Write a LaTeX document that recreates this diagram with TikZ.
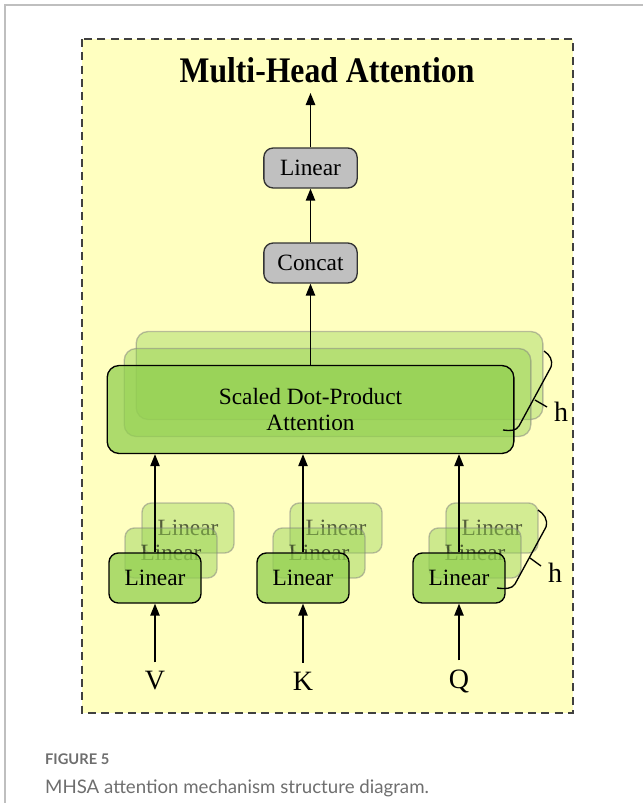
\documentclass[tikz,border=0pt]{standalone}
\usepackage{fontspec}
\setmainfont{Liberation Serif}
\newfontfamily\capfont{Lato}
\usetikzlibrary{arrows.meta}

\definecolor{bgyellow}{RGB}{255,255,192}
\definecolor{boxgray}{RGB}{192,192,192}
\definecolor{headgreen}{RGB}{146,208,80}
\definecolor{capgray}{RGB}{110,110,110}

\tikzset{
  px/.style={x=0.75pt, y=-0.75pt},
  boxfont/.style={font=\rmfamily\fontsize{17.5}{20}\selectfont},
  graybox/.style={draw=black!80, line width=1pt, fill=boxgray, rounded corners=7pt,
    minimum width=70pt, minimum height=30pt, boxfont},
  linbox/.style={draw=black, line width=1pt, fill=headgreen, fill opacity=0.75,
    text opacity=1, rounded corners=7pt, minimum width=69pt, minimum height=37.5pt, boxfont},
  linback/.style={linbox, draw=black!50, draw opacity=0.5, fill opacity=#1, text opacity=0.6},
  sdpabox/.style={linbox, minimum width=305pt, minimum height=66pt, rounded corners=9pt, align=center},
  sdpaback/.style={sdpabox, draw=black!50, draw opacity=0.5, fill opacity=#1},
  inlabel/.style={font=\rmfamily\fontsize{21}{24}\selectfont},
}

\begin{document}
\begin{tikzpicture}[px, >={Triangle[length=9pt,width=7pt]}, line width=1.1pt]
  \useasboundingbox (0,0) rectangle (643,803);
  % page frame and dashed panel
  \draw[line width=1.5pt, black!25] (5,803) -- (5,5) -- (643,5);
  \filldraw[fill=bgyellow, draw=black!75, line width=1pt, dash pattern=on 6pt off 4pt]
    (82,39) rectangle (573,713);

  \node[font=\rmfamily\fontsize{27}{30}\selectfont\bfseries] (title) at (327,70)
    {\scalebox{0.88}[1]{Multi-Head Attention}};

  % output side
  \coordinate (out) at (310.5,93);
  \node[graybox] (lin) at (310.5,168) {Linear};
  \node[graybox] (concat) at (310.5,263) {Concat};

  % h heads of scaled dot-product attention
  \node[sdpaback=0.4] (sdpa3) at (339.5,375.5) {};
  \node[sdpaback=0.45] (sdpa2) at (327.5,392.5) {};
  \node[sdpabox] (sdpa) at (310.5,409.5) {Scaled Dot-Product\\Attention};

  % linear projections of V, K, Q
  \foreach \n/\x/\t in {v/155/V, k/303/K, q/459/Q} {
    \node[linback=0.4] (\n3) at (\x+33,528) {Linear};
    \node[linback=0.45] (\n2) at (\x+16,553) {Linear};
    \node[linbox] (\n1) at (\x,578) {Linear};
    \node[inlabel] (in\n) at (\x,681) {\t};
    \draw[->, shorten <=3pt] (in\n) -- (\n1);
    \draw[->] (\n1.north) -- (\n1.north |- sdpa.south);
  }

  \draw[->] (sdpa.north) -- (concat);
  \draw[->] (concat) -- (lin);
  \draw[->] (lin) -- (out);

  % braces for the h heads
  \draw[line width=1pt] (544,351) .. controls (550,355) and (553,360) .. (551,367)
    -- (519,426) .. controls (516,431) and (510,431) .. (503,430);
  \draw[line width=1pt] (535,400) -- (547,407);
  \node[inlabel] (hsdpa) at (561,412) {h};

  \draw[line width=1pt] (538,510) .. controls (544,514) and (548,519) .. (546,527)
    -- (515,584) .. controls (512,589) and (505,589) .. (497,588);
  \draw[line width=1pt] (530,558) -- (541,566);
  \node[inlabel] (hlin) at (555,573) {h};

  % caption
  \node[anchor=base west, text=capgray, font=\capfont\fontsize{11}{13}\selectfont\bfseries]
    (fig) at (40,764) {FIGURE 5};
  \node[anchor=base west, text=capgray, font=\capfont\fontsize{14}{17}\selectfont]
    (cap) at (40,793) {MHSA attention mechanism structure diagram.};
\end{tikzpicture}
\end{document}
